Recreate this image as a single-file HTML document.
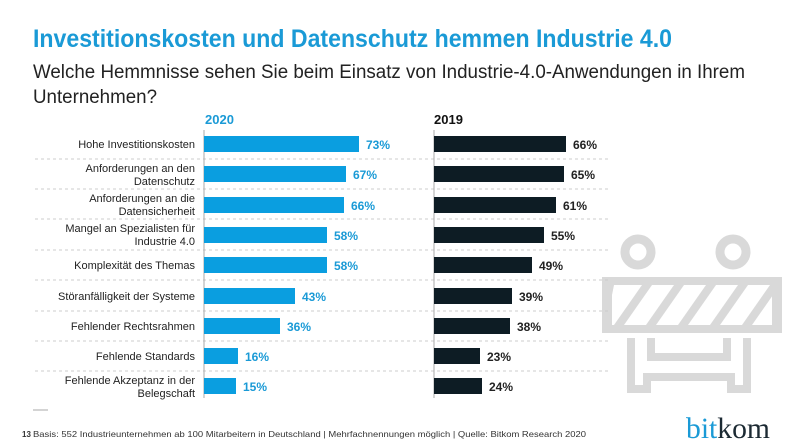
<!DOCTYPE html>
<html><head><meta charset="utf-8"><style>body{margin:0;background:#fff}svg{display:block}</style></head>
<body>
<svg width="800" height="446" viewBox="0 0 800 446" xmlns="http://www.w3.org/2000/svg" font-family="Liberation Sans, DejaVu Sans, sans-serif">
<defs><clipPath id="c"><rect x="612" y="285" width="160" height="40"/></clipPath></defs>
<rect width="800" height="446" fill="#fff"/>
<text x="33" y="47" font-size="25" font-weight="bold" fill="#1a9ad6" textLength="639" lengthAdjust="spacingAndGlyphs">Investitionskosten und Datenschutz hemmen Industrie 4.0</text>
<text x="33" y="78" font-size="19" fill="#222" textLength="712" lengthAdjust="spacingAndGlyphs">Welche Hemmnisse sehen Sie beim Einsatz von Industrie-4.0-Anwendungen in Ihrem</text>
<text x="33" y="103" font-size="19" fill="#222" textLength="124" lengthAdjust="spacingAndGlyphs">Unternehmen?</text>
<text x="205" y="124" font-size="13" font-weight="bold" fill="#1a9ad6">2020</text>
<text x="434" y="124" font-size="13" font-weight="bold" fill="#111">2019</text>
<!-- barrier icon -->
<g fill="none" stroke="#d9d9d9" stroke-width="9">
<circle cx="638" cy="252" r="13"/><circle cx="733" cy="252" r="13"/>
</g>
<rect x="602" y="277" width="180" height="56" fill="#d9d9d9"/>
<rect x="612" y="285" width="160" height="40" fill="#fff"/>
<g fill="#d9d9d9" clip-path="url(#c)">
<polygon points="614,325 642,285 652,285 624,325"/>
<polygon points="646,325 674,285 684,285 656,325"/>
<polygon points="678,325 706,285 716,285 688,325"/>
<polygon points="710,325 738,285 748,285 720,325"/>
<polygon points="742,325 770,285 780,285 752,325"/>
<polygon points="596,325 604,285 614,285 606,325"/>
</g>
<g fill="none" stroke="#d9d9d9" stroke-width="8">
<path d="M631,338 V389 H647 V377 H731 V389 H747 V338"/>
<path d="M651,338 V357 H727 V338"/>
</g>
<g stroke="#ccc" stroke-dasharray="3,3" stroke-width="1">
<line x1="35" y1="159" x2="610" y2="159"/><line x1="35" y1="189" x2="610" y2="189"/>
<line x1="35" y1="219" x2="610" y2="219"/><line x1="35" y1="250" x2="610" y2="250"/>
<line x1="35" y1="280" x2="610" y2="280"/><line x1="35" y1="311" x2="610" y2="311"/>
<line x1="35" y1="341" x2="610" y2="341"/><line x1="35" y1="371" x2="610" y2="371"/>
</g>
<line x1="204" y1="130" x2="204" y2="398" stroke="#aaa"/>
<line x1="434" y1="130" x2="434" y2="398" stroke="#aaa"/>
<g font-size="11" fill="#222" text-anchor="end">
<text x="195" y="148">Hohe Investitionskosten</text>
<text x="195" y="172">Anforderungen an den</text><text x="195" y="185">Datenschutz</text>
<text x="195" y="202">Anforderungen an die</text><text x="195" y="215">Datensicherheit</text>
<text x="195" y="232">Mangel an Spezialisten für</text><text x="195" y="245">Industrie 4.0</text>
<text x="195" y="269">Komplexität des Themas</text>
<text x="195" y="300">Störanfälligkeit der Systeme</text>
<text x="195" y="330">Fehlender Rechtsrahmen</text>
<text x="195" y="360">Fehlende Standards</text>
<text x="195" y="384">Fehlende Akzeptanz in der</text><text x="195" y="397">Belegschaft</text>
</g>
<g fill="#0a9ee0">
<rect x="204" y="136" width="155" height="16"/>
<rect x="204" y="166" width="142" height="16"/>
<rect x="204" y="197" width="140" height="16"/>
<rect x="204" y="227" width="123" height="16"/>
<rect x="204" y="257" width="123" height="16"/>
<rect x="204" y="288" width="91" height="16"/>
<rect x="204" y="318" width="76" height="16"/>
<rect x="204" y="348" width="34" height="16"/>
<rect x="204" y="378" width="32" height="16"/>
</g>
<g font-size="12" font-weight="bold" fill="#1a9ad6">
<text x="366" y="149">73%</text><text x="353" y="179">67%</text><text x="351" y="210">66%</text>
<text x="334" y="240">58%</text><text x="334" y="270">58%</text><text x="302" y="301">43%</text>
<text x="287" y="331">36%</text><text x="245" y="361">16%</text><text x="243" y="391">15%</text>
</g>
<g fill="#0d1c24">
<rect x="434" y="136" width="132" height="16"/>
<rect x="434" y="166" width="130" height="16"/>
<rect x="434" y="197" width="122" height="16"/>
<rect x="434" y="227" width="110" height="16"/>
<rect x="434" y="257" width="98" height="16"/>
<rect x="434" y="288" width="78" height="16"/>
<rect x="434" y="318" width="76" height="16"/>
<rect x="434" y="348" width="46" height="16"/>
<rect x="434" y="378" width="48" height="16"/>
</g>
<g font-size="12" font-weight="bold" fill="#222">
<text x="573" y="149">66%</text><text x="571" y="179">65%</text><text x="563" y="210">61%</text>
<text x="551" y="240">55%</text><text x="539" y="270">49%</text><text x="519" y="301">39%</text>
<text x="517" y="331">38%</text><text x="487" y="361">23%</text><text x="489" y="391">24%</text>
</g>
<line x1="33" y1="410" x2="48" y2="410" stroke="#aaa"/>
<text x="22" y="437" font-size="8" fill="#333" font-weight="bold">13</text>
<text x="33" y="437" font-size="8.5" fill="#333" textLength="553" lengthAdjust="spacingAndGlyphs">Basis: 552 Industrieunternehmen ab 100 Mitarbeitern in Deutschland | Mehrfachnennungen möglich | Quelle: Bitkom Research 2020</text>
<text x="686" y="438" font-size="30" font-family="Liberation Serif, serif" textLength="84" lengthAdjust="spacingAndGlyphs"><tspan fill="#1a9ad6">bit</tspan><tspan fill="#1c2a33">kom</tspan></text>
</svg>
</body></html>
